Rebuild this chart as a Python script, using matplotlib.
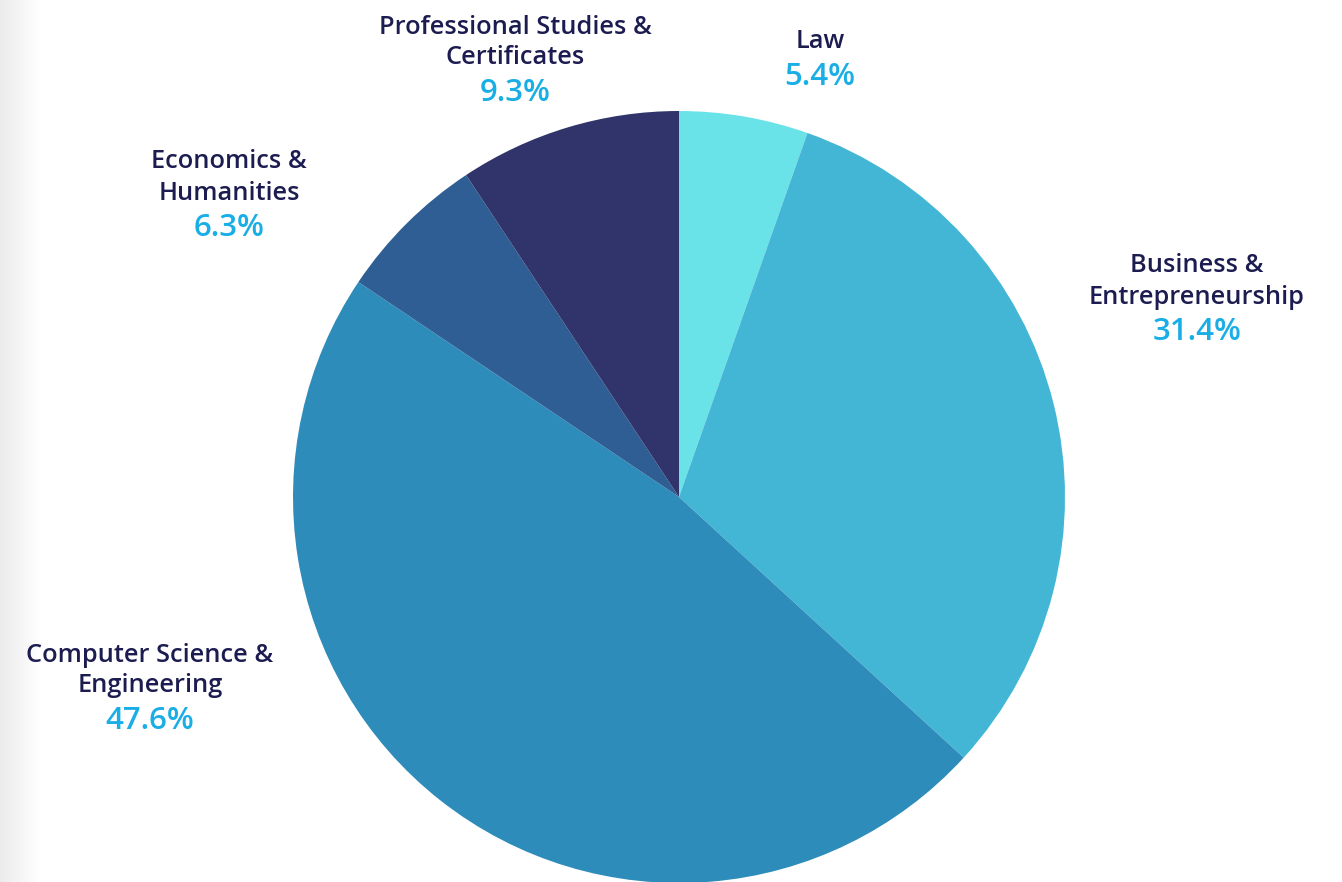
import matplotlib
matplotlib.use("Agg")
import matplotlib.pyplot as plt
import numpy as np

categories = ["Law", "Business &\nEntrepreneurship", "Computer Science &\nEngineering",
              "Economics &\nHumanities", "Professional Studies &\nCertificates"]
values = [5.4, 31.4, 47.6, 6.3, 9.3]
pct_labels = ["5.4%", "31.4%", "47.6%", "6.3%", "9.3%"]
colors = ["#6AE3E8", "#43B6D6", "#2E8CBA", "#2E5E94", "#30346A"]

W, H = 1342, 882
fig = plt.figure(figsize=(W / 100, H / 100), dpi=100)
ax = fig.add_axes([0, 0, 1, 1])

# light gray gradient on the left edge
grad = np.linspace(0, 1, 60)[None, :]
ax.imshow(grad, extent=[0, 40, 0, H],
          cmap=matplotlib.colors.LinearSegmentedColormap.from_list("g", ["#EBEBEB", "#FFFFFF"]),
          aspect="auto", zorder=0)

cx, cy, r = 679, H - 497, 386
ax.pie(values, colors=colors, startangle=90, counterclock=False,
       center=(cx, cy), radius=r, frame=True,
       wedgeprops=dict(linewidth=0))
ax.set_xlim(0, W)
ax.set_ylim(0, H)
ax.set_aspect("equal")
ax.axis("off")

name_color = "#1C1C50"
pct_color = "#1AAEE6"
font = "Open Sans"
# label anchor positions (pixel coords: x, y of top line center)
label_pos = [(820, 42), (1197, 266), (150, 655), (229, 162), (515, 27)]
line_h = 31
for cat, pct, (px, py) in zip(categories, pct_labels, label_pos):
    lines = cat.split("\n")
    for i, ln in enumerate(lines):
        ax.text(px, H - (py + i * line_h), ln, ha="center", va="center",
                fontsize=18.3, color=name_color, family=font, weight="semibold")
    ax.text(px, H - (py + len(lines) * line_h + 4), pct, ha="center", va="center",
            fontsize=22.5, color=pct_color, family=font, weight="semibold")

fig.savefig("out.png", dpi=100)
